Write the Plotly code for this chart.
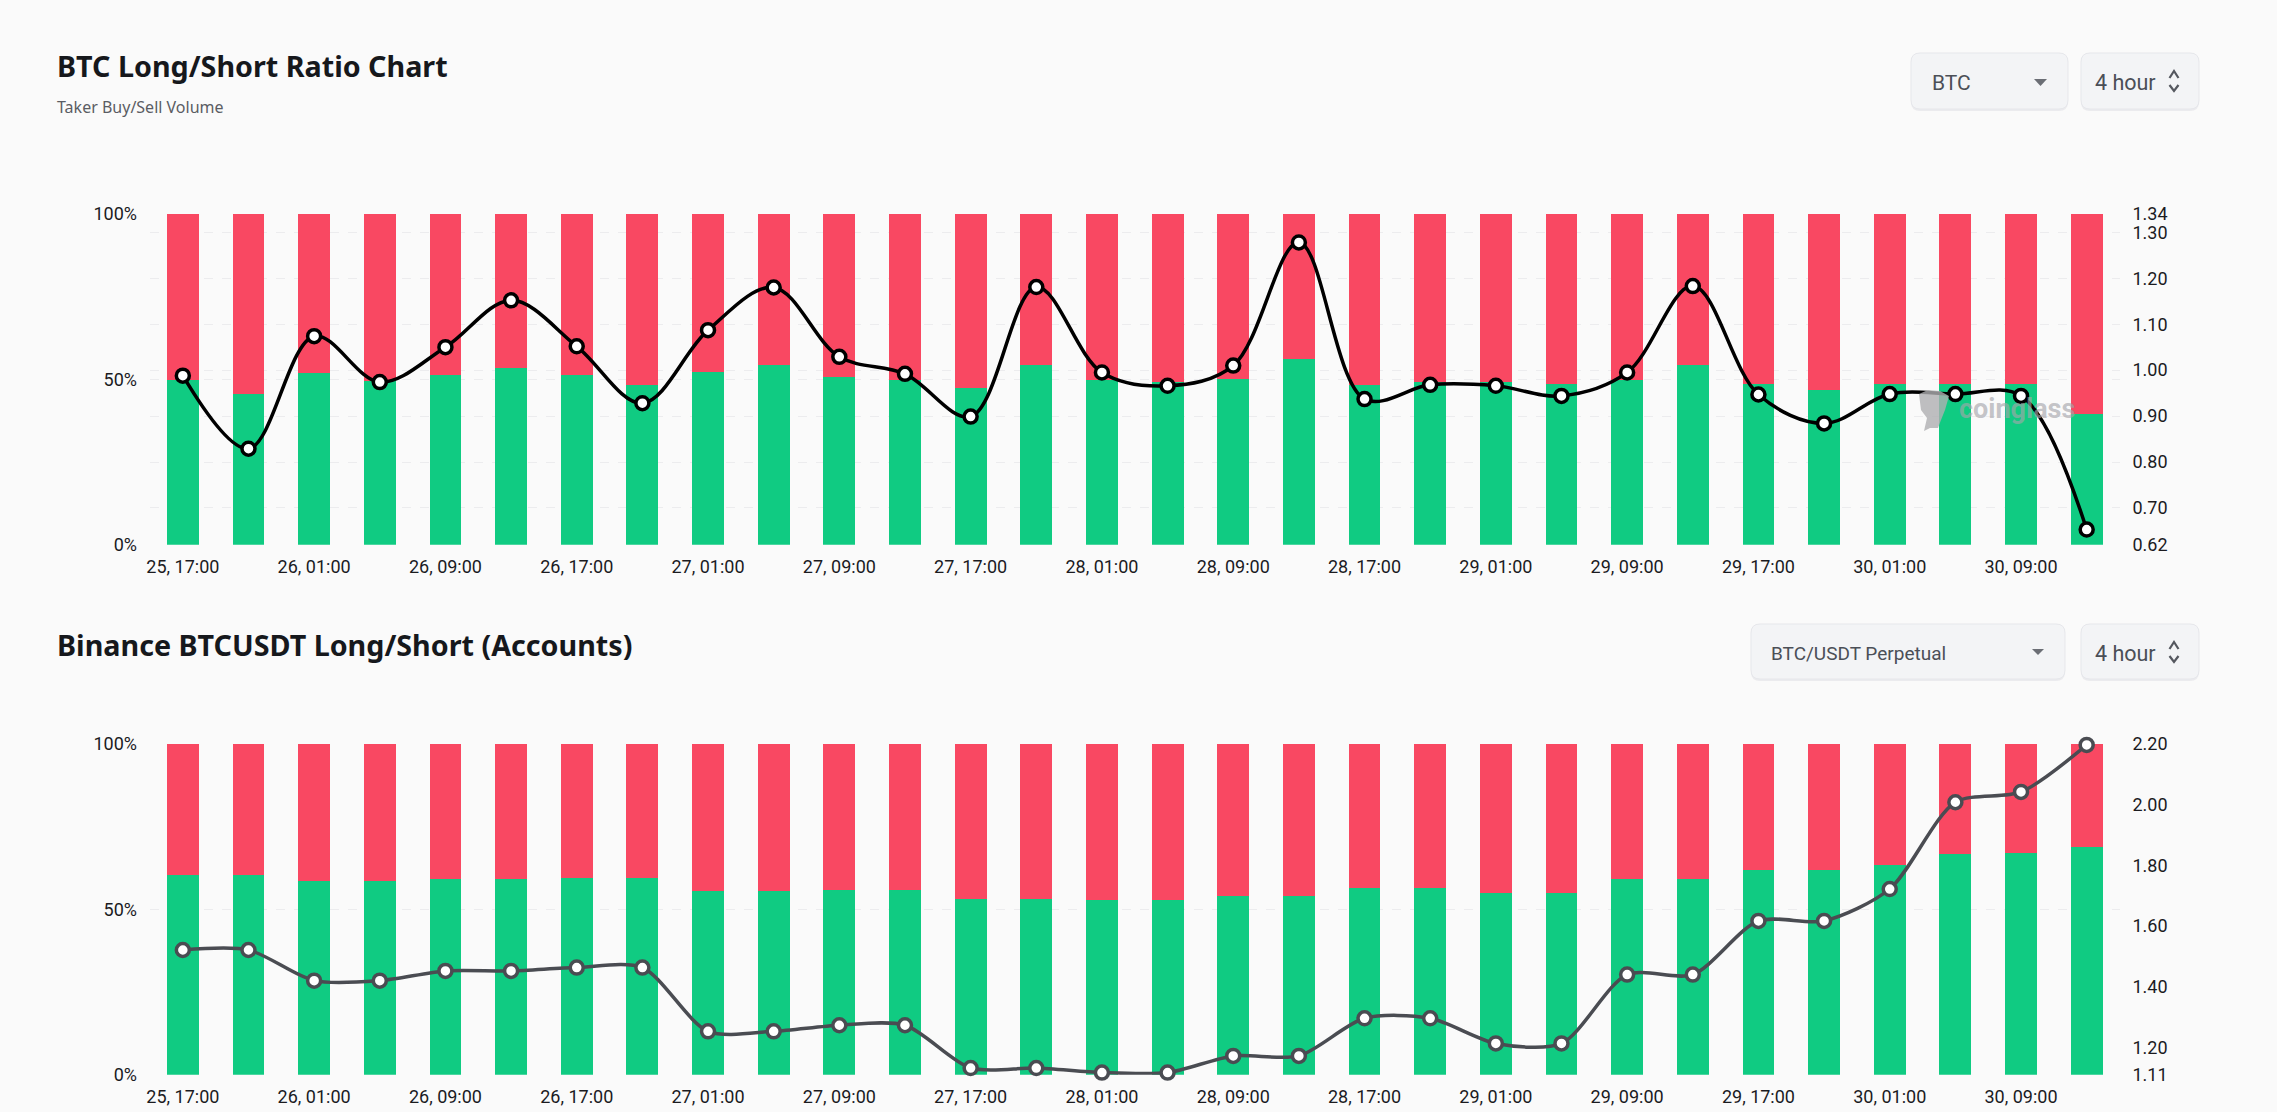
import plotly.graph_objects as go

W = 2277
H = 1112

labels = [
    "25, 17:00", "25, 21:00", "26, 01:00", "26, 05:00", "26, 09:00", "26, 13:00",
    "26, 17:00", "26, 21:00", "27, 01:00", "27, 05:00", "27, 09:00", "27, 13:00",
    "27, 17:00", "27, 21:00", "28, 01:00", "28, 05:00", "28, 09:00", "28, 13:00",
    "28, 17:00", "28, 21:00", "29, 01:00", "29, 05:00", "29, 09:00", "29, 13:00",
    "29, 17:00", "29, 21:00", "30, 01:00", "30, 05:00", "30, 09:00", "30, 13:00",
]

taker_long = [
    49.7, 45.5, 51.8, 49.4, 51.3, 53.5, 51.4, 48.2, 52.1, 54.2,
    50.8, 49.8, 47.4, 54.2, 49.8, 49.1, 50.2, 56.1, 48.4, 49.1,
    49.1, 48.5, 49.8, 54.2, 48.7, 46.9, 48.7, 48.7, 48.6, 39.5,
]
taker_short = [round(100 - v, 1) for v in taker_long]
taker_ratio = [
    0.988, 0.829, 1.074, 0.974, 1.050, 1.152, 1.052, 0.928, 1.087, 1.180,
    1.029, 0.992, 0.899, 1.181, 0.995, 0.966, 1.010, 1.278, 0.937, 0.968,
    0.966, 0.944, 0.995, 1.183, 0.947, 0.884, 0.948, 0.948, 0.944, 0.653,
]

accounts_long = [
    60.4, 60.4, 58.7, 58.7, 59.3, 59.3, 59.5, 59.5, 55.6, 55.6,
    56.0, 56.0, 53.2, 53.2, 52.8, 52.8, 54.0, 54.0, 56.6, 56.6,
    54.8, 54.8, 59.1, 59.1, 61.8, 61.8, 63.3, 66.7, 67.1, 68.8,
]
accounts_short = [round(100 - v, 1) for v in accounts_long]
accounts_ratio = [
    1.521, 1.521, 1.420, 1.420, 1.452, 1.452, 1.463, 1.463, 1.253, 1.253,
    1.273, 1.273, 1.132, 1.132, 1.117, 1.117, 1.172, 1.172, 1.296, 1.296,
    1.213, 1.213, 1.440, 1.440, 1.617, 1.617, 1.722, 2.008, 2.042, 2.197,
]

pct_ticks = [0, 50, 100]
pct_text = ["0%", "50%", "100%"]
taker_ticks = [0.62, 0.70, 0.80, 0.90, 1.00, 1.10, 1.20, 1.30, 1.34]
accounts_ticks = [1.11, 1.20, 1.40, 1.60, 1.80, 2.00, 2.20]

GREEN = "#10cb82"
RED = "#f94862"
BG = "#fafafa"
GRID = "#ececee"
TICK_FONT = dict(family="Roboto", size=18, color="#1b1b1f")
TITLE_FONT = "Noto Sans"


def px(x):
    return x / W


def py(y):
    return 1 - y / H


def add_panel(fig, long_vals, short_vals, ratio, line_color, n, ticks, right_grid, smoothing):
    xa = "x" if n == 1 else "x2"
    ya = "y" if n == 1 else "y3"
    ra = "y2" if n == 1 else "y4"
    fig.add_trace(go.Bar(x=labels, y=long_vals, marker=dict(color=GREEN, line_width=0),
                         xaxis=xa, yaxis=ya, name="Long"))
    fig.add_trace(go.Bar(x=labels, y=short_vals, marker=dict(color=RED, line_width=0),
                         xaxis=xa, yaxis=ya, name="Short"))
    fig.add_trace(go.Scatter(
        x=labels, y=ratio, xaxis=xa, yaxis=ra, mode="lines+markers", name="Ratio",
        line=dict(color=line_color, width=3.5, shape="spline", smoothing=smoothing),
        marker=dict(size=13, color="white", line=dict(color=line_color, width=3.5)),
        cliponaxis=False,
    ))
    return dict(
        showgrid=right_grid, gridcolor=GRID, griddash="dash", gridwidth=1, zeroline=False,
        side="right", tickmode="array", tickvals=ticks, ticktext=[f"{t:.2f}" for t in ticks],
        range=[ticks[0], ticks[-1]], tickfont=TICK_FONT, automargin=False,
        ticklabelstandoff=12, overlaying=ya, anchor=xa,
    )


def rounded_box(x0, y0, x1, y1, r=9):
    # paper coordinates, y goes up
    X0, X1 = px(x0), px(x1)
    Y0, Y1 = py(y0), py(y1)
    rx, ry = r / W, r / H
    return (f"M {X0 + rx} {Y0} L {X1 - rx} {Y0} Q {X1} {Y0} {X1} {Y0 - ry} "
            f"L {X1} {Y1 + ry} Q {X1} {Y1} {X1 - rx} {Y1} L {X0 + rx} {Y1} "
            f"Q {X0} {Y1} {X0} {Y1 + ry} L {X0} {Y0 - ry} Q {X0} {Y0} {X0 + rx} {Y0} Z")


def poly(points, close=True):
    d = " L ".join(f"{px(x)} {py(y)}" for x, y in points)
    return "M " + d + (" Z" if close else "")


shapes = []
annotations = []


def add_control(x0, y0, x1, y1, text, text_x, size):
    shapes.append(dict(type="path", xref="paper", yref="paper", path=rounded_box(x0, y0 + 2, x1, y1 + 2),
                       fillcolor="#ebebee", line_width=0, layer="below"))
    shapes.append(dict(type="path", xref="paper", yref="paper", path=rounded_box(x0, y0, x1, y1),
                       fillcolor="#f3f4f6", line=dict(color="#e6e7eb", width=1), layer="below"))
    annotations.append(dict(x=px(text_x), y=py((y0 + y1) / 2 + 1.5), xref="paper", yref="paper", text=text,
                            showarrow=False, xanchor="left", yanchor="middle",
                            font=dict(family="Roboto", size=size, color="#4b4f57")))


def add_caret(x0, x1, y0, y1):
    shapes.append(dict(type="path", xref="paper", yref="paper",
                       path=poly([(x0, y0), (x1, y0), ((x0 + x1) / 2, y1)]),
                       fillcolor="#6b6e75", line_width=0))


def add_chevrons(cx, y0, y1, y2, y3):
    for tip, base in ((y0, y1), (y3, y2)):
        shapes.append(dict(type="path", xref="paper", yref="paper",
                           path=poly([(cx - 4.5, base), (cx, tip), (cx + 4.5, base)], close=False),
                           line=dict(color="#55585f", width=2.2)))


add_control(1911, 53, 2068, 109, "BTC", 1929.5, 21)
add_caret(2034, 2047, 79, 86)
add_control(2081, 53, 2199, 109, "4 hour", 2093, 21.5)
add_chevrons(2174, 71, 78, 85, 91)
add_control(1751, 624, 2065, 679, "BTC/USDT Perpetual", 1769, 19)
add_caret(2032, 2044, 649, 655)
add_control(2081, 624, 2199, 679, "4 hour", 2093, 21.5)
add_chevrons(2174, 642, 649, 656, 662)

annotations.append(dict(x=px(55), y=py(66), xref="paper", yref="paper", text="BTC Long/Short Ratio Chart",
                        showarrow=False, xanchor="left", yanchor="middle",
                        font=dict(family=TITLE_FONT, size=28.7, color="#16181c", weight=700)))
annotations.append(dict(x=px(55), y=py(107), xref="paper", yref="paper", text="Taker Buy/Sell Volume",
                        showarrow=False, xanchor="left", yanchor="middle",
                        font=dict(family=TITLE_FONT, size=16, color="#5a5d63")))
annotations.append(dict(x=px(55), y=py(645), xref="paper", yref="paper",
                        text="Binance BTCUSDT Long/Short (Accounts)",
                        showarrow=False, xanchor="left", yanchor="middle",
                        font=dict(family=TITLE_FONT, size=28.7, color="#16181c", weight=700)))

# coinglass watermark
annotations.append(dict(x=px(1957), y=py(409), xref="paper", yref="paper", text="coinglass",
                        showarrow=False, xanchor="left", yanchor="middle",
                        font=dict(family="Roboto", size=27, color="rgba(165,165,170,0.65)", weight=700)))
shapes.append(dict(type="path", xref="paper", yref="paper", fillcolor="rgba(175,175,178,0.8)", line_width=0,
                   path=poly([(1919, 394), (1928, 390), (1940, 391), (1949, 396), (1945, 410), (1941, 420),
                              (1938, 428), (1930, 428), (1924, 431), (1927, 418), (1921, 410)])))

fig = go.Figure()
right_top = add_panel(fig, taker_long, taker_short, taker_ratio, "#000000", 1, taker_ticks, True, 1.0)
right_bottom = add_panel(fig, accounts_long, accounts_short, accounts_ratio, "#4a4c52", 2, accounts_ticks, False, 0.8)

x_common = dict(
    type="category", categoryorder="array", categoryarray=labels, range=[-0.5, 29.5],
    domain=[px(150), px(2119.5)], tickmode="array", tickvals=labels[::2], ticktext=labels[::2],
    tickangle=0, tickfont=TICK_FONT, showgrid=False, zeroline=False, showline=False, automargin=False,
    ticks="outside", ticklen=6, tickcolor="rgba(0,0,0,0)",
)
y_common = dict(
    tickmode="array", tickvals=pct_ticks, ticktext=pct_text, range=[0, 100], tickfont=TICK_FONT,
    showgrid=True, gridcolor=GRID, griddash="dash", gridwidth=1, zeroline=False, ticklabelstandoff=12,
    automargin=False,
)

fig.update_layout(
    width=W,
    height=H,
    margin=dict(l=0, r=0, t=0, b=0),
    paper_bgcolor=BG,
    plot_bgcolor=BG,
    barmode="stack",
    bargap=0.515,
    showlegend=False,
    shapes=shapes,
    annotations=annotations,
    xaxis=dict(x_common, anchor="y"),
    yaxis=dict(y_common, domain=[py(544.7), py(214)], anchor="x"),
    yaxis2=right_top,
    xaxis2=dict(x_common, anchor="y3"),
    yaxis3=dict(y_common, domain=[py(1074.7), py(744)], anchor="x2"),
    yaxis4=right_bottom,
)

fig.write_html("out.html", config=dict(displayModeBar=False),
               post_script="document.body.style.margin='0';document.body.style.overflow='hidden';")
